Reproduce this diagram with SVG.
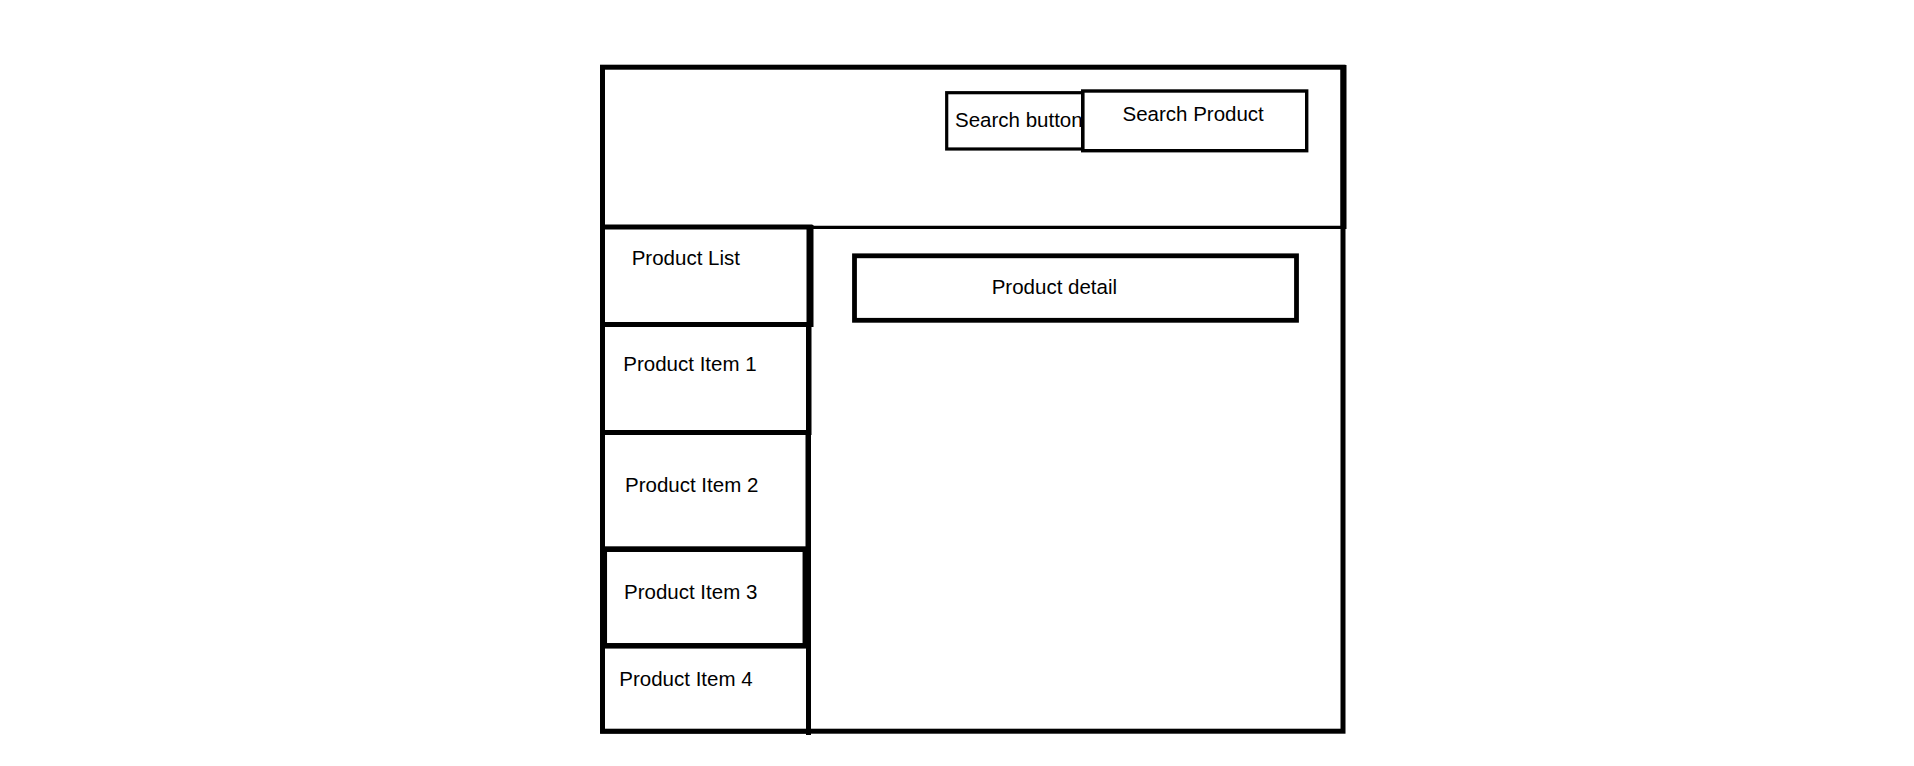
<svg xmlns="http://www.w3.org/2000/svg" width="1914" height="766" viewBox="0 0 1914 766">
<style>
.box{fill:none;stroke:#000;stroke-linejoin:miter}
.lbl{font-family:"Liberation Sans",Arial,sans-serif;font-size:20.5px;fill:#000}
</style>
<rect width="1914" height="766" fill="#fff"/>
<g id="frame">
<rect class="box" x="602.5" y="67.2" width="740.5" height="664" stroke-width="5"/>
<line x1="1343.5" y1="65" x2="1343.5" y2="229" stroke="#000" stroke-width="6"/>
</g>
<g id="connectors">
<line x1="805" y1="227.3" x2="1345" y2="227.3" stroke="#000" stroke-width="3.2"/>
<line x1="808.5" y1="324" x2="808.5" y2="735" stroke="#000" stroke-width="5"/>
</g>
<g id="search-button">
<rect class="box" x="946.7" y="92.7" width="136" height="56.3" stroke-width="3.2"/>
<text class="lbl" x="955" y="126.7">Search button</text>
</g>
<g id="search-product">
<rect class="box" x="1082.7" y="91" width="224" height="59.7" stroke-width="3.4"/>
<text class="lbl" x="1122.5" y="120.5">Search Product</text>
</g>
<g id="product-list">
<rect class="box" x="602.5" y="227" width="207.5" height="97.5" stroke-width="5"/>
<line x1="810" y1="225" x2="810" y2="327" stroke="#000" stroke-width="7"/>
<text class="lbl" x="631.7" y="265">Product List</text>
</g>
<g id="product-detail">
<rect class="box" x="854.5" y="255.8" width="442" height="64.5" stroke-width="4.8"/>
<text class="lbl" x="991.7" y="294.3">Product detail</text>
</g>
<g id="product-item-1">
<rect class="box" x="602.5" y="324.5" width="206.5" height="108" stroke-width="5"/>
<text class="lbl" x="623.3" y="371">Product Item 1</text>
</g>
<g id="product-item-2">
<rect class="box" x="602.5" y="432.5" width="205.5" height="116.7" stroke-width="5"/>
<text class="lbl" x="625" y="491.7">Product Item 2</text>
</g>
<g id="product-item-3">
<rect class="box" x="604.3" y="549.2" width="201" height="96.6" stroke-width="5.5"/>
<text class="lbl" x="624" y="599">Product Item 3</text>
</g>
<g id="product-item-4">
<rect class="box" x="602.5" y="645.8" width="205.8" height="85.5" stroke-width="4.5"/>
<text class="lbl" x="619.3" y="685.7">Product Item 4</text>
</g>
</svg>
